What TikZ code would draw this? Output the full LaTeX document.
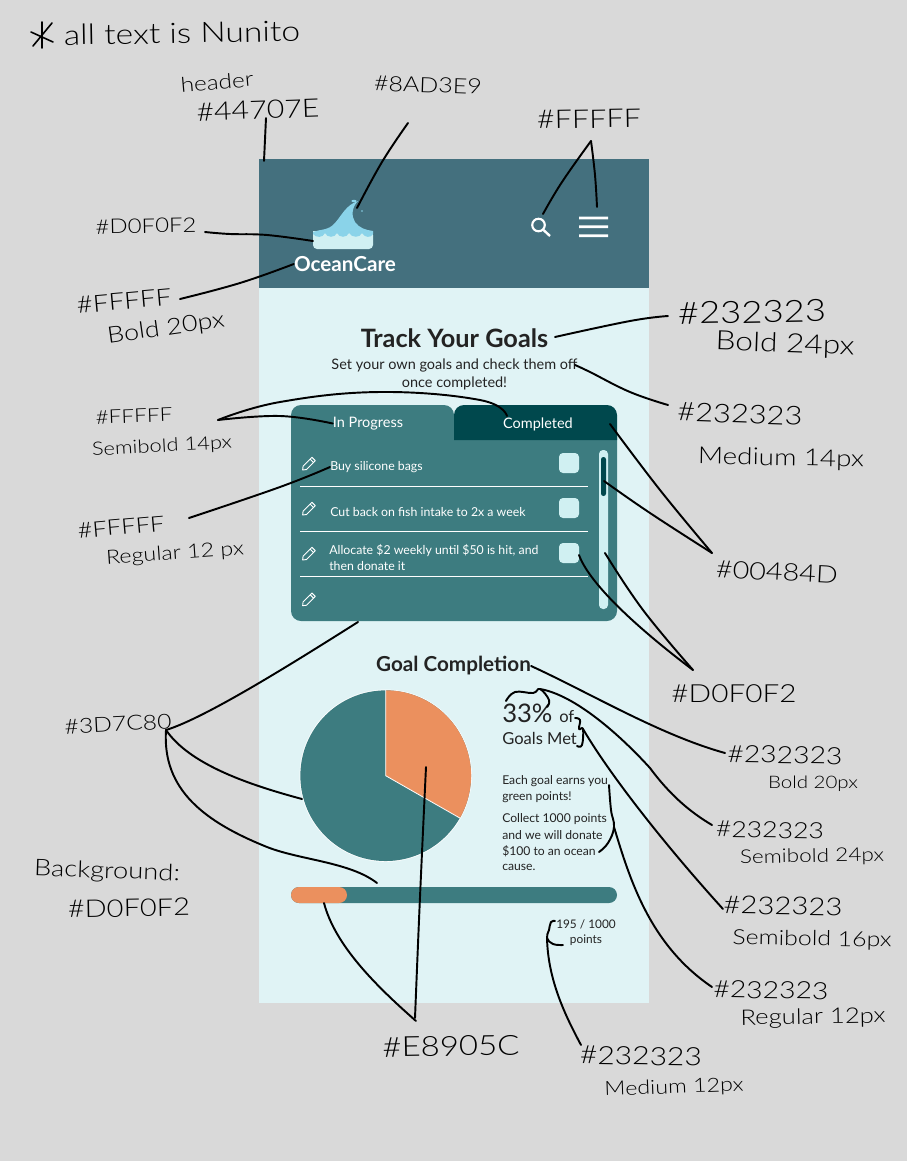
\documentclass[tikz,border=0pt]{standalone}
\usepackage{fontspec}
\usepackage{graphicx}
\setmainfont{Lato}
\newfontfamily\handfont[UprightFont=* Light]{Lato}
\usetikzlibrary{calc}
\definecolor{bgG}{HTML}{D9D9D9}
\definecolor{hdr}{HTML}{44707E}
\definecolor{body}{HTML}{E0F3F5}
\definecolor{pale}{HTML}{D0F0F2}
\definecolor{wave}{HTML}{8AD3E9}
\definecolor{teal}{HTML}{3D7C80}
\definecolor{deep}{HTML}{00484D}
\definecolor{ora}{HTML}{EB905E}
\definecolor{inkT}{HTML}{232323}
\newcommand\pxf[2][0.775]{\fontsize{\fpeval{#2*#1}}{\fpeval{#2}}\selectfont}
\newcommand\hl[6]{\node[inner sep=0pt,rotate=#5,text=black] (#1) at (#2,#3) {\scalebox{1}[.84]{\resizebox{\fpeval{#4*0.75}pt}{!}{\handfont #6}}};}
\newcommand\pencilicon[2]{\begin{scope}[shift={(#1,#2)},rotate=45]
\draw[white,line width=.7pt,line join=round] (-8,0) -- (-5,2.4) -- (7.5,2.4) -- (7.5,-2.4) -- (-5,-2.4) -- cycle (5,2.4) -- (5,-2.4);
\end{scope}}
\tikzset{
 ink/.style={draw=black,line width=1.45pt,line cap=round,line join=round},
 ui/.style={inner sep=0pt,text=inkT,anchor=#1},
 ui/.default=center,
 uw/.style={inner sep=0pt,text=white,anchor=#1},
 uw/.default=center,
 sm/.style={smooth,tension=.7}
}
\begin{document}
\begin{tikzpicture}[x=.75pt,y=-.75pt]
\useasboundingbox (0,0) rectangle (907,1161);
\fill[bgG] (0,0) rectangle (907,1161);
% phone
\fill[body] (259,288) rectangle (649,1003);
\fill[hdr] (259,159) rectangle (649,288);
% logo
\fill[pale,rounded corners=3pt] (313,231) rectangle (373,249);
\fill[pale] (313,231) rectangle (373,240);
\fill[wave] (313,232) .. controls (320,229) and (328,231) .. (335,223) .. controls (342,215) and (346,205) .. (358,201)
 .. controls (352,207) and (351,216) .. (355,222) .. controls (359,228) and (366,230) .. (373,231) -- (373,234)
 .. controls (371,238) and (365,238) .. (362,233) .. controls (360,238) and (352,238) .. (349,233)
 .. controls (347,238) and (339,238) .. (337,233) .. controls (335,238) and (327,238) .. (325,233)
 .. controls (323,238) and (316,238) .. (313,234) -- cycle;
\fill[wave] (354,201) ellipse (2pt and .9pt);
\fill[wave] (362,211) circle (.6pt);
% header icons
\draw[white,line width=1.6pt] (538.5,225) circle (4.7pt);
\draw[white,line width=1.8pt] (543.5,230) -- (550,236);
\fill[white] (579,216.7) rectangle (608,219.3) (579,225.4) rectangle (608,228) (579,234.4) rectangle (608,237);
\node[uw] (tOcean) at (345,264) {\pxf{20}\bfseries OceanCare};
% headings
\node[ui] (tTrack) at (454.5,338) {\pxf[.79]{24}\bfseries Track Your Goals};
\node[ui] (tSub1) at (454.5,365) {\pxf{14}Set your own goals and check them off};
\node[ui] (tSub2) at (454.5,383) {\pxf{14}once completed!};
% card
\fill[teal,rounded corners=7.5pt] (291,425) rectangle (617,621);
\fill[teal] (291,440) {[rounded corners=7.5pt] -- (291,405) -- (454,405)} -- (454,440) -- cycle;
\fill[deep] (454,440) {[rounded corners=7.5pt] -- (454,405) -- (617,405)} -- (617,440) -- cycle;
\node[uw] (tProg) at (368,423.5) {\pxf{14}In Progress};
\node[uw] (tComp) at (538,424.5) {\pxf{14}Completed};
\draw[white,line width=.8pt] (300,486.3) -- (588,486.3) (300,531.3) -- (588,531.3) (300,576.3) -- (588,576.3);
\pencilicon{308.3}{464.3}
\pencilicon{308.3}{509.3}
\pencilicon{308.3}{554.3}
\pencilicon{308.3}{600}
\node[uw=west] (tR1) at (330,467) {\pxf[.77]{12}Buy silicone bags};
\node[uw=west] (tR2) at (330,512) {\pxf[.77]{12}Cut back on fish intake to 2x a week};
\node[uw=west] (tR3) at (329,550) {\pxf[.77]{12}Allocate \$2 weekly until \$50 is hit, and};
\node[uw=west] (tR4) at (329,566) {\pxf[.77]{12}then donate it};
\fill[pale,rounded corners=3pt] (559,453) rectangle (579,473);
\fill[pale,rounded corners=3pt] (559,498) rectangle (579,518);
\fill[pale,rounded corners=3pt] (559,543) rectangle (579,563);
\fill[pale,rounded corners=3pt] (599,450) rectangle (608,609);
\fill[deep,rounded corners=1.8pt] (601,457) rectangle (606,496);
% goal completion
\node[ui] (tGoal) at (453.5,666) {\pxf{20}\bfseries Goal Completion};
\fill[white] (385.7,775.7) circle (64.6pt);
\fill[teal] (385.7,775.7) circle (64pt);
\fill[ora] plot[domain=-90:29.7,samples=80] ({385.7+85.4*cos(\x)},{775.7+85.4*sin(\x)}) -- (385.7,775.7) -- cycle;
\draw[white,line width=.6pt] (385.7,690) -- (385.7,775.7) -- (460.3,818.3);
\node[ui=base west] (t33) at (502,722) {\pxf[.8]{24}33\%};
\node[ui=base west] (tOf) at (559,722) {\pxf{16}of};
\node[ui=base west] (tMet) at (502,744) {\pxf{16}Goals Met};
\node[ui=west] (tP1) at (502,781) {\pxf[.76]{12}Each goal earns you};
\node[ui=west] (tP2) at (502,797) {\pxf[.76]{12}green points!};
\node[ui=west] (tP3) at (502,819) {\pxf[.76]{12}Collect 1000 points};
\node[ui=west] (tP4) at (502,835) {\pxf[.76]{12}and we will donate};
\node[ui=west] (tP5) at (502,851) {\pxf[.76]{12}\$100 to an ocean};
\node[ui=west] (tP6) at (502,867) {\pxf[.76]{12}cause.};
\fill[teal,rounded corners=6pt] (291,887) rectangle (617,903);
\fill[ora,rounded corners=6pt] (291,887) rectangle (347,903);
\node[ui] (tPts1) at (586,924) {\pxf[.74]{12}195 / 1000};
\node[ui] (tPts2) at (586,940.5) {\pxf[.74]{12}points};
% handwritten labels
\draw[ink,line width=1.2pt] (42,22) -- (42,48) (31,32) -- (53,42) (33,46) -- (52,23);
\hl{hAll}{182}{33}{236}{1}{all text is Nunito}
\hl{hHead}{217}{82}{73}{5}{header}
\hl{h447}{258}{110}{123}{2}{\#44707E}
\hl{h8AD}{428}{85}{108}{-2}{\#8AD3E9}
\hl{hFF1}{589}{119}{104}{1}{\#FFFFF}
\hl{hD0a}{146}{226}{101}{1}{\#D0F0F2}
\hl{hFF2}{124}{301}{95}{5}{\#FFFFF}
\hl{hB20a}{166}{329}{118}{8}{Bold 20px}
\hl{h23a}{752}{312}{148}{1}{\#232323}
\hl{hB24}{785}{345}{139}{-2}{Bold 24px}
\hl{h23b}{740}{414}{125}{-2}{\#232323}
\hl{hM14}{781}{459}{166}{-1}{Medium 14px}
\hl{hFF3}{134}{416}{77}{2}{\#FFFFF}
\hl{hS14}{162}{447}{140}{3}{Semibold 14px}
\hl{hFF4}{121}{527}{87}{5}{\#FFFFF}
\hl{hR12a}{175}{554}{138}{4}{Regular 12 px}
\hl{h004}{777}{572}{122}{-3}{\#00484D}
\hl{hD0b}{734}{694}{125}{0}{\#D0F0F2}
\hl{h3D}{118}{724}{107}{3}{\#3D7C80}
\hl{h23c}{785}{755}{115}{-1}{\#232323}
\hl{hB20b}{813}{784}{90}{0}{Bold 20px}
\hl{h23d}{770}{830}{108}{-1}{\#232323}
\hl{hS24}{812}{857}{144}{1}{Semibold 24px}
\hl{h23e}{783}{906}{119}{-1}{\#232323}
\hl{hS16}{812}{940}{159}{-1}{Semibold 16px}
\hl{h23f}{771}{990}{115}{-1}{\#232323}
\hl{hR12b}{813}{1018}{145}{1}{Regular 12px}
\hl{hE8}{451}{1046}{137}{1}{\#E8905C}
\hl{h23g}{641}{1056}{122}{-1}{\#232323}
\hl{hM12}{674}{1088}{139}{2}{Medium 12px}
\hl{hBg}{107}{872}{146}{-2}{Background:}
\hl{hD0c}{129}{908}{122}{1}{\#D0F0F2}
% connector ends
\coordinate (a1) at (266,118); \coordinate (a2) at (264,161);
\coordinate (b1) at (408,123); \coordinate (b2) at (357,208);
\coordinate (c0) at (591,141); \coordinate (c1) at (543,214); \coordinate (c2) at (597,207);
\coordinate (d1) at (205,232); \coordinate (d2) at (313,241);
\coordinate (e1) at (180,299);
\coordinate (f1) at (668,316); \coordinate (f2) at (555,337);
\coordinate (g1) at (668,405); \coordinate (g2) at (575,365);
\coordinate (h0) at (218,420); \coordinate (h1) at (507,416);
\coordinate (i1) at (189,518);
\coordinate (j0) at (712,553); \coordinate (j1) at (610,424); \coordinate (j2) at (604,481);
\coordinate (k0) at (693,670); \coordinate (k1) at (605,553); \coordinate (k2) at (579,555);
\coordinate (l0) at (166,730); \coordinate (l1) at (358,622); \coordinate (l2) at (302,799); \coordinate (l3) at (377,883);
\coordinate (m1) at (725,753);
\coordinate (n0) at (540,689); \coordinate (n1) at (712,825);
\coordinate (o0) at (583,729); \coordinate (o1) at (723,909);
\coordinate (p0) at (614,827); \coordinate (p1) at (712,987);
\coordinate (q0) at (547,938); \coordinate (q1) at (581,1045);
\coordinate (r0) at (416,1021); \coordinate (r1) at (324,903); \coordinate (r2) at (426,767);
% connectors
\draw[ink] (a1) -- (a2);
\draw[ink] plot[sm] coordinates {(b1) (382,162) (b2)};
\draw[ink] plot[sm] coordinates {(c0) (562,182) (c1)};
\draw[ink] plot[sm] coordinates {(c0) (595,175) (c2)};
\draw[ink] plot[sm] coordinates {(d1) (230,234) (267,235) (d2)};
\draw[ink] plot[sm] coordinates {(e1) (240,283) (tOcean.west)};
\draw[ink] plot[sm] coordinates {(f1) (630,321) (f2)};
\draw[ink] plot[sm] coordinates {(g1) (630,392) (590,372) (g2)};
\draw[ink] plot[sm] coordinates {(h0) (280,402) (380,392) (480,400) (h1)};
\draw[ink] plot[sm] coordinates {(h0) (280,416) (tProg.west)};
\draw[ink] plot[sm] coordinates {(i1) (280,487) (tR1.west)};
\draw[ink] plot[sm] coordinates {(j1) (660,490) (j0)};
\draw[ink] plot[sm] coordinates {(j2) (650,513) (j0)};
\draw[ink] plot[sm] coordinates {(k1) (643,610) (k0)};
\draw[ink] (k2) .. controls (590,585) and (640,630) .. (k0);
\draw[ink] (l0) .. controls (205,718) and (290,665) .. (l1);
\draw[ink] (l0) .. controls (190,765) and (250,785) .. (l2);
\draw[ink] (l0) .. controls (162,790) and (205,822) .. (267,847) .. controls (300,860) and (350,862) .. (l3);
\draw[ink] (tGoal.east) .. controls (590,693) and (660,735) .. (m1);
\draw[ink] plot[sm] coordinates {(506,701) (515,692) (533,693) (n0) (549,700) (547,707)};
\draw[ink] (n0) .. controls (575,695) and (620,735) .. (650,768) .. controls (670,795) and (690,812) .. (n1);
\draw[ink] plot[sm] coordinates {(575,718) (580,720) (579,729) (o0) (582,745) (577,746)};
\draw[ink] (o0) .. controls (610,775) and (665,845) .. (o1);
\draw[ink] plot[sm] coordinates {(609,785) (611,810) (p0) (608,843) (599,852)};
\draw[ink] (p0) .. controls (630,880) and (650,945) .. (p1);
\draw[ink] plot[sm] coordinates {(555,921) (551,922) (549,930) (q0) (553,944) (563,945)};
\draw[ink] (q0) .. controls (548,980) and (565,1015) .. (q1);
\draw[ink] (r1) .. controls (335,945) and (375,985) .. (r0);
\draw[ink] plot[sm] coordinates {(415,1018) (420,897) (r2)};
\end{tikzpicture}
\end{document}
